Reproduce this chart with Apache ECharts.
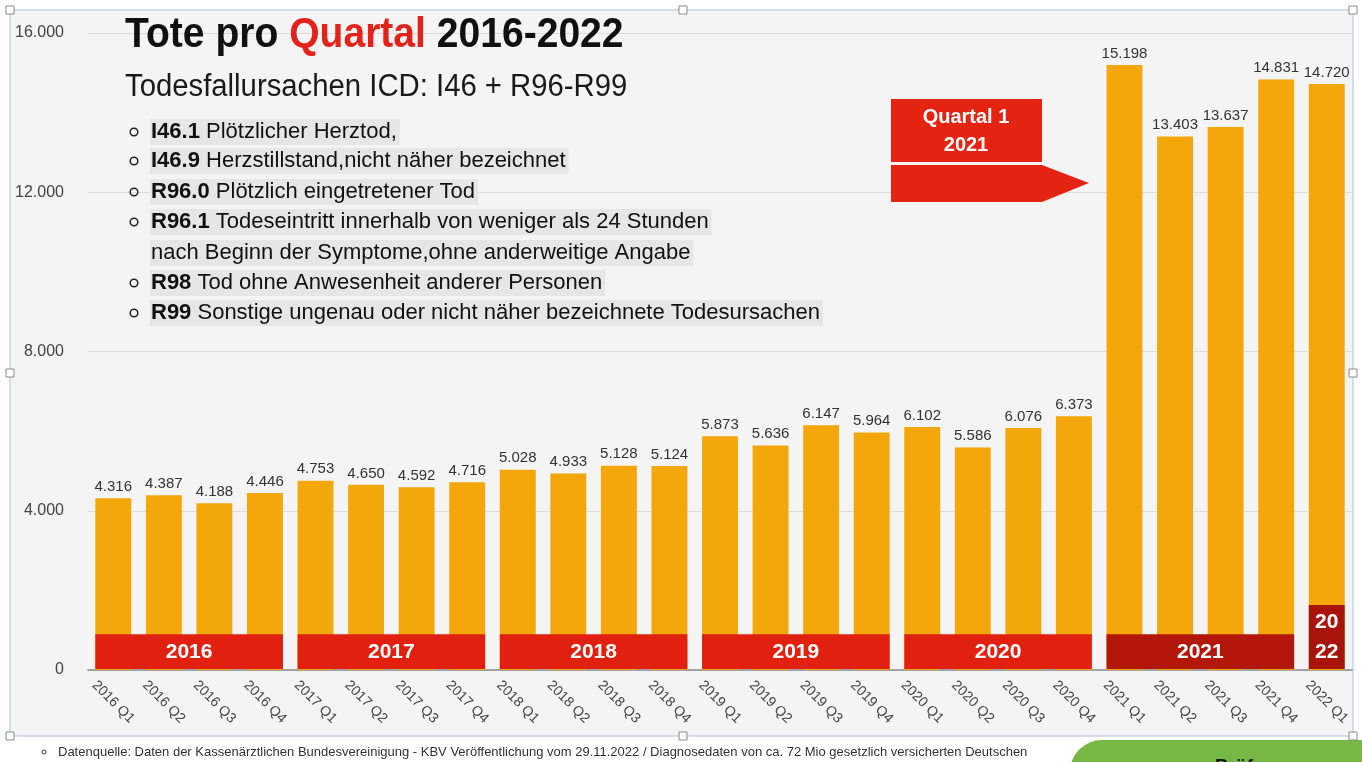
<!DOCTYPE html>
<html lang="de">
<head>
<meta charset="UTF-8">
<title>Tote pro Quartal 2016-2022</title>
<style>
html, body { margin: 0; padding: 0; background: #fff; }
#chart { width: 1362px; height: 762px; }
</style>
</head>
<body>
<div id="chart"></div>
<script src="https://cdn.jsdelivr.net/npm/echarts@6/dist/echarts.min.js"></script>
<script>
// quartale
var categories = ['2016 Q1', '2016 Q2', '2016 Q3', '2016 Q4',
    '2017 Q1', '2017 Q2', '2017 Q3', '2017 Q4',
    '2018 Q1', '2018 Q2', '2018 Q3', '2018 Q4',
    '2019 Q1', '2019 Q2', '2019 Q3', '2019 Q4',
    '2020 Q1', '2020 Q2', '2020 Q3', '2020 Q4',
    '2021 Q1', '2021 Q2', '2021 Q3', '2021 Q4',
    '2022 Q1'];
var deaths = [4316, 4387, 4188, 4446,
    4753, 4650, 4592, 4716,
    5028, 4933, 5128, 5124,
    5873, 5636, 6147, 5964,
    6102, 5586, 6076, 6373,
    15198, 13403, 13637, 14831,
    14720];

// jahresbalken unten
var yearLabels = ['2016', '2017', '2018', '2019', '2020', '2021', '20\n22'];
var yearStart = [0, 4, 8, 12, 16, 20, 24];
var yearEnd = [3, 7, 11, 15, 19, 23, 24];
var yearHeight = [900, 900, 900, 900, 900, 900, 1630];
var yearColors = ['#e2200f', '#e2200f', '#e2200f', '#e2200f', '#e2200f', '#b3170a', '#a8140b'];

var yTicks = [0, 4000, 8000, 12000, 16000];

var bullets = [
    ['I46.1', ' Plötzlicher Herztod,'],
    ['I46.9', ' Herzstillstand,nicht näher bezeichnet'],
    ['R96.0', ' Plötzlich eingetretener Tod'],
    ['R96.1', ' Todeseintritt innerhalb von weniger als 24 Stunden'],
    ['', 'nach Beginn der Symptome,ohne anderweitige Angabe'],
    ['R98', ' Tod ohne Anwesenheit anderer Personen'],
    ['R99', ' Sonstige ungenau oder nicht näher bezeichnete Todesursachen']
];

var FONT = 'Liberation Sans, Arial, Helvetica, sans-serif';
var barFrac = 0.71;

function deFmt(v) {
    var s = String(Math.round(v));
    return s.replace(/\B(?=(\d{3})+(?!\d))/g, '.');
}

var bandData = yearLabels.map(function (l, i) {
    return [yearStart[i], yearEnd[i], yearHeight[i], i];
});

var graphics = [];

// rahmen (folie)
graphics.push({
    type: 'rect', z: -10, silent: true,
    shape: { x: 10, y: 10, width: 1343, height: 726 },
    style: { fill: '#f4f4f4', stroke: '#c6d3e6', lineWidth: 1.5 }
});
[[10, 10], [683, 10], [1353, 10], [10, 373], [1353, 373], [10, 736], [683, 736], [1353, 736]].forEach(function (p) {
    graphics.push({
        type: 'rect', z: 50, silent: true,
        shape: { x: p[0] - 4, y: p[1] - 4, width: 8, height: 8 },
        style: { fill: '#fff', stroke: '#8a8a8a', lineWidth: 1 }
    });
});

// titel
graphics.push({
    type: 'text', x: 125, y: 14, scaleX: 0.93, z: 20,
    style: {
        text: '{a|Tote pro }{b|Quartal}{a| 2016-2022}',
        rich: {
            a: { fontSize: 42, fontWeight: 'bold', fontFamily: FONT, fill: '#111' },
            b: { fontSize: 42, fontWeight: 'bold', fontFamily: FONT, fill: '#e3221b' }
        }
    }
});
graphics.push({
    type: 'text', x: 125, y: 72, scaleX: 0.945, z: 20,
    style: { text: 'Todesfallursachen ICD: I46 + R96-R99', fontSize: 31, fontFamily: FONT, fill: '#1a1a1a' }
});

// liste
var lineY = [132, 161, 192, 222, 253, 283, 313];
bullets.forEach(function (b, i) {
    if (b[0]) {
        graphics.push({
            type: 'circle', z: 20,
            shape: { cx: 134, cy: lineY[i], r: 3.8 },
            style: { fill: 'none', stroke: '#222', lineWidth: 1.5 }
        });
    }
    graphics.push({
        type: 'text', x: 150, y: lineY[i], z: 20,
        style: {
            text: (b[0] ? '{k|' + b[0] + '}' : '') + '{t|' + b[1] + '}',
            verticalAlign: 'middle',
            backgroundColor: '#e6e6e6',
            padding: [2, 3, 2, 1],
            rich: {
                k: { fontSize: 22, fontWeight: 'bold', fontFamily: FONT, fill: '#111' },
                t: { fontSize: 22, fontFamily: FONT, fill: '#111' }
            }
        }
    });
});

// pfeil "Quartal 1 2021"
graphics.push({
    type: 'rect', z: 20,
    shape: { x: 891, y: 99, width: 151, height: 63 },
    style: { fill: '#e42312' }
});
graphics.push({
    type: 'text', x: 966, y: 131, z: 21,
    style: {
        text: 'Quartal 1\n2021', align: 'center', verticalAlign: 'middle',
        fontSize: 20, fontWeight: 'bold', fontFamily: FONT, fill: '#fff', lineHeight: 28
    }
});
graphics.push({
    type: 'polygon', z: 20,
    shape: { points: [[891, 165], [1042, 165], [1089, 183], [1042, 202], [891, 202]] },
    style: { fill: '#e42312' }
});

// fussnote
graphics.push({
    type: 'circle', z: 20,
    shape: { cx: 44, cy: 752, r: 2 },
    style: { fill: 'none', stroke: '#333', lineWidth: 1 }
});
graphics.push({
    type: 'text', x: 58, y: 752, z: 20,
    style: {
        text: 'Datenquelle: Daten der Kassenärztlichen Bundesvereinigung - KBV Veröffentlichung vom 29.11.2022 / Diagnosedaten von ca. 72 Mio gesetzlich versicherten Deutschen',
        verticalAlign: 'middle', fontSize: 13, fontFamily: FONT, fill: '#333'
    }
});

// gruener knopf
graphics.push({
    type: 'rect', z: 20,
    shape: { x: 1070, y: 740, width: 320, height: 60, r: [32, 0, 0, 0] },
    style: { fill: '#76b843' }
});
graphics.push({
    type: 'text', x: 1215, y: 757, z: 21,
    style: { text: 'Prüfen', fontSize: 19, fontWeight: 'bold', fontFamily: FONT, fill: '#111' }
});

var option = {
    animation: false,
    backgroundColor: '#fff',
    grid: { left: 88, right: 10, top: 33, bottom: 92 },
    xAxis: {
        type: 'category',
        data: categories,
        axisLine: { lineStyle: { color: '#8a8a8a', width: 1.5 } },
        axisTick: { show: false },
        axisLabel: {
            interval: 0, rotate: -45, margin: 32,
            align: 'center', verticalAlign: 'middle',
            fontSize: 14, fontFamily: FONT, color: '#444'
        }
    },
    yAxis: {
        type: 'value',
        min: yTicks[0], max: yTicks[yTicks.length - 1], interval: 4000,
        axisLine: { show: false },
        axisTick: { show: false },
        splitLine: { lineStyle: { color: '#dcdcdc' } },
        axisLabel: {
            margin: 24, fontSize: 16, fontFamily: FONT, color: '#444',
            formatter: function (v) { return deFmt(v); }
        }
    },
    series: [
        {
            type: 'bar',
            data: deaths,
            barCategoryGap: '29%',
            itemStyle: { color: '#f4a70b' },
            label: {
                show: true, position: 'top', distance: 4,
                fontSize: 15, fontFamily: FONT, color: '#333',
                formatter: function (p) { return deFmt(p.value); }
            }
        },
        {
            type: 'custom',
            data: bandData,
            z: 5,
            silent: true,
            encode: { x: [0, 1], y: 2 },
            renderItem: function (params, api) {
                var s = api.value(0), e = api.value(1), h = api.value(2), i = api.value(3);
                var p0 = api.coord([s, 0]);
                var p1 = api.coord([e, h]);
                var w = api.size([1, 0])[0] * barFrac;
                var x0 = p0[0] - w / 2, x1 = p1[0] + w / 2;
                return {
                    type: 'group',
                    children: [
                        {
                            type: 'rect',
                            shape: { x: x0, y: p1[1], width: x1 - x0, height: p0[1] - p1[1] - 1 },
                            style: { fill: yearColors[i] }
                        },
                        {
                            type: 'text',
                            style: {
                                text: yearLabels[i], x: (x0 + x1) / 2, y: (p0[1] + p1[1]) / 2,
                                align: 'center', verticalAlign: 'middle', lineHeight: 30,
                                fontSize: 21, fontWeight: 'bold', fontFamily: FONT, fill: '#fff'
                            }
                        }
                    ]
                };
            }
        }
    ],
    graphic: graphics
};

var chart = echarts.init(document.getElementById('chart'));
chart.setOption(option);
</script>
</body>
</html>
